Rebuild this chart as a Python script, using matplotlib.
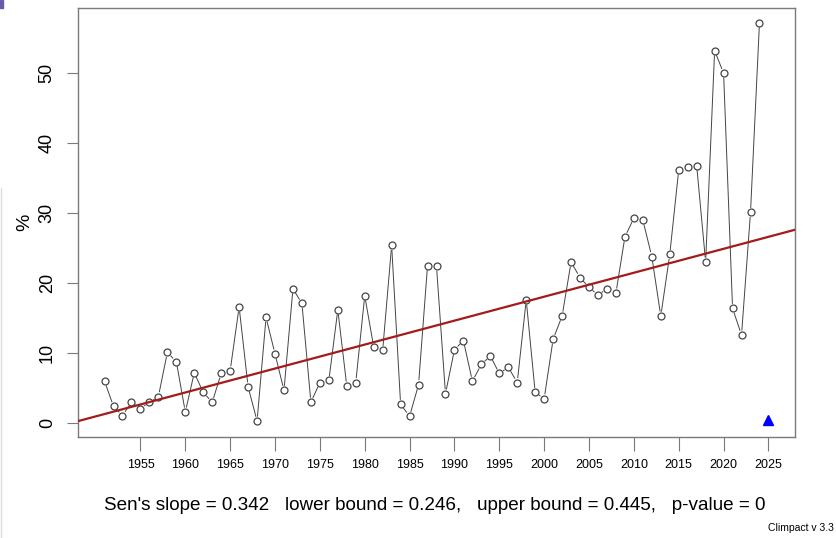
import numpy as np
import matplotlib
matplotlib.use("Agg")
import matplotlib.pyplot as plt
from matplotlib.lines import Line2D
from matplotlib.patches import Rectangle

# ---------------------------------------------------------------------------
years = list(range(1951, 2025))
values = [
    6.0, 2.4, 1.1, 3.0, 2.1, 3.0, 3.8, 10.1, 8.8, 1.6,
    7.2, 4.4, 3.0, 7.1, 7.5, 16.6, 5.2, 0.3, 15.1, 9.9,
    4.7, 19.2, 17.1, 3.0, 5.8, 6.1, 16.2, 5.3, 5.8, 18.2,
    10.9, 10.4, 25.4, 2.7, 1.0, 5.5, 22.5, 22.4, 4.2, 10.5,
    11.8, 6.0, 8.4, 9.6, 7.1, 8.0, 5.8, 17.6, 4.4, 3.5,
    12.0, 15.3, 23.0, 20.8, 19.4, 18.3, 19.2, 18.6, 26.6, 29.3,
    29.0, 23.8, 15.3, 24.1, 36.2, 36.6, 36.8, 23.0, 53.2, 50.0,
    16.4, 12.6, 30.1, 57.2,
]
flag_year = 2025
flag_value = 0.4

sen_slope = 0.342
trend_1951 = 1.31

x_ticks = list(range(1955, 2030, 5))
y_ticks = [0, 10, 20, 30, 40, 50]
caption = ("Sen's slope = 0.342   lower bound = 0.246,   "
           "upper bound = 0.445,   p-value = 0")

plt.rcParams["font.family"] = ["Liberation Sans", "DejaVu Sans"]

fig = plt.figure(figsize=(8.36, 5.38), dpi=100)
ax = fig.add_axes([78 / 836, 101 / 538, 717 / 836, 429 / 538])

ax.set_xlim(1948.04, 2027.96)
ax.set_ylim(-1.97, 59.3)

frame_col = "#7a7a7a"
for s in ax.spines.values():
    s.set_color(frame_col)
    s.set_linewidth(1.0)

# R type="b": lines with a gap around each point
gap = 5.0
pts = ax.transData.transform(np.column_stack([years, values]))
inv = ax.transData.inverted()
for (x0, y0), (x1, y1) in zip(pts[:-1], pts[1:]):
    d = np.hypot(x1 - x0, y1 - y0)
    if d <= 2 * gap:
        continue
    ux, uy = (x1 - x0) / d, (y1 - y0) / d
    a = inv.transform((x0 + ux * gap, y0 + uy * gap))
    b = inv.transform((x1 - ux * gap, y1 - uy * gap))
    ax.add_line(Line2D([a[0], b[0]], [a[1], b[1]], color="#444444", lw=0.7))

ax.plot(years, values, "o", ls="none", ms=5, mfc="white",
        mec="#444444", mew=0.9, zorder=3)

ax.axline((1951, trend_1951), slope=sen_slope, color="#a51a1a", lw=1.6, zorder=4)

ax.plot([flag_year], [flag_value], "^", color="#0000ff", ms=7, zorder=5)

ax.set_xticks(x_ticks)
ax.set_xticklabels([str(t) for t in x_ticks], fontsize=9)
ax.set_yticks(y_ticks)
ax.set_yticklabels([str(t) for t in y_ticks], fontsize=13,
                   rotation=90, va="center")
ax.tick_params(axis="x", length=10, color=frame_col, pad=6)
ax.tick_params(axis="y", length=8, color=frame_col, pad=8)

fig.text(25 / 836, 1 - 222 / 538, "%", fontsize=14, rotation=90,
         ha="center", va="center")

fig.text(435 / 836, 1 - 505 / 538, caption, fontsize=13.6,
         ha="center", va="center")
fig.text(834 / 836, 1 - 528 / 538, "Climpact v 3.3", fontsize=7.5,
         ha="right", va="center")

# screenshot edge artefacts
fig.patches.append(Rectangle((0, 1 - 8 / 538), 3 / 836, 8 / 538,
                             transform=fig.transFigure, color="#6a5aa8"))
fig.lines.append(Line2D([1 / 836, 1 / 836], [0, 1 - 188 / 538],
                        transform=fig.transFigure, color="#dddddd", lw=1))

fig.savefig("out.png", dpi=100)
